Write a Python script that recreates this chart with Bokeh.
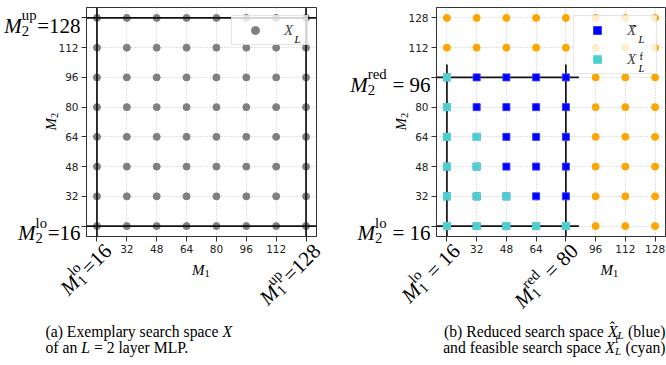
import math
from bokeh.plotting import figure
from bokeh.models import Range1d, Label, Legend, LegendItem, FixedTicker, Span, GridBox
from bokeh.layouts import row
from bokeh.embed import file_html
from bokeh.resources import INLINE

# ---------------- data ----------------
m_values = [16, 32, 48, 64, 80, 96, 112, 128]      # candidate layer widths (M1 and M2)
m1_lo, m1_up = 16, 128
m2_lo, m2_up = 16, 128
m1_red, m2_red = 80, 96
# feasible configurations (cyan)
feas_m1 = [16, 16, 16, 32, 16, 32, 16, 32, 48, 16, 32, 48, 64, 80]
feas_m2 = [96, 80, 64, 64, 48, 48, 32, 32, 32, 16, 16, 16, 16, 16]

all_m1 = [a for b in m_values for a in m_values]
all_m2 = [b for b in m_values for a in m_values]
red_m1 = [a for a, b in zip(all_m1, all_m2) if a <= m1_red and b <= m2_red]
red_m2 = [b for a, b in zip(all_m1, all_m2) if a <= m1_red and b <= m2_red]
out_m1 = [a for a, b in zip(all_m1, all_m2) if not (a <= m1_red and b <= m2_red)]
out_m2 = [b for a, b in zip(all_m1, all_m2) if not (a <= m1_red and b <= m2_red)]

SERIF = "Liberation Serif"
SANS = "DejaVu Sans"
W, H = 666, 365

pad = 0.05 * (m1_up - m1_lo)
XR0, XR1 = m1_lo - pad, m1_up + pad
YR0, YR1 = m2_lo - pad, m2_up + pad

# ---------------- text metrics (Times-compatible) ----------------
ROMAN = {' ': 250, '(': 333, ')': 333, '=': 564, '.': 250, ',': 250,
         'a': 444, 'b': 500, 'c': 444, 'd': 500, 'e': 444, 'f': 333, 'g': 500, 'h': 500,
         'i': 278, 'j': 278, 'k': 500, 'l': 278, 'm': 778, 'n': 500, 'o': 500, 'p': 500,
         'q': 500, 'r': 333, 's': 389, 't': 278, 'u': 500, 'v': 500, 'w': 722, 'x': 500,
         'y': 500, 'z': 444, 'E': 611, 'L': 611, 'M': 889, 'P': 556, 'R': 667, 'X': 722}
ITALIC = {'M': 833, 'X': 611, 'L': 556}


def tw(s, italic=False):
    t = ITALIC if italic else ROMAN
    return sum(t.get(c, ROMAN.get(c, 500)) for c in s) / 1000.0


def run(segs, size, sup_rise=0.5):
    ss = round(size * 0.7, 1)
    pieces = []
    x = 0.0
    s0 = None
    sw = 0.0
    for text, kind in segs:
        if kind in ("sub", "subi", "sup"):
            if s0 is None:
                s0 = x
                sw = 0.0
            it = kind == "subi"
            dy = -0.24 * size if kind.startswith("sub") else sup_rise * size
            pieces.append((text, ss, it, s0, dy))
            sw = max(sw, tw(text, it) * ss)
            x = s0 + sw + 0.03 * size
        elif kind == "hat":
            pieces.append(("\u02c6", size, False, x - 0.5 * size, 0.28 * size))
        else:
            s0 = None
            it = kind == "i"
            pieces.append((text, size, it, x, 0.0))
            x += tw(text, it) * size
    return pieces, x


# transparent overlay figure holding every text that lies outside the plot frames
ov = figure(width=W, height=H, x_range=Range1d(0, W), y_range=Range1d(H, 0),
            x_axis_type=None, y_axis_type=None, output_backend="svg",
            toolbar_location=None, min_border_left=0, min_border_right=0,
            min_border_top=0, min_border_bottom=0, background_fill_alpha=0,
            border_fill_alpha=0, outline_line_color=None)
ov.grid.visible = False


def put(text, px, py, size, italic=False, angle=0.0, color="#000000"):
    th = math.radians(angle)
    n = len(text) - len(text.lstrip(" "))
    if n:
        adv = tw(" " * n) * size
        px += adv * math.cos(th)
        py -= adv * math.sin(th)
        text = text.lstrip(" ")
    ov.add_layout(Label(x=px, y=py, text=text, text_font=SERIF, text_font_size=f"{size}px",
                        text_font_style="italic" if italic else "normal", angle=angle,
                        angle_units="deg", text_align="left", text_baseline="alphabetic",
                        text_color=color))


def place(segs, size, ax, ay, angle=0.0, align="left", sup_rise=0.5):
    pieces, total = run(segs, size, sup_rise)
    th = math.radians(angle)
    ux, uy = math.cos(th), -math.sin(th)
    vx, vy = -math.sin(th), -math.cos(th)
    off = {"left": 0.0, "center": -total / 2, "right": -total}[align]
    sx, sy = ax + off * ux, ay + off * uy
    for txt, sz, it, dx, dy in pieces:
        put(txt, sx + dx * ux + dy * vx, sy + dx * uy + dy * vy, sz, it, angle)


def base_fig(mbl, mbr, fw, xover, yover):
    p = figure(frame_width=fw, frame_height=229, x_range=Range1d(XR0, XR1),
               y_range=Range1d(YR0, YR1), output_backend="svg", toolbar_location=None,
               min_border_left=mbl, min_border_right=mbr, min_border_top=7,
               min_border_bottom=129, background_fill_color="white",
               border_fill_color="white")
    p.outline_line_color = "#333333"
    p.outline_line_width = 1
    for ax, over in ((p.xaxis[0], xover), (p.yaxis[0], yover)):
        ax.ticker = FixedTicker(ticks=m_values, minor_ticks=[])
        ax.major_label_overrides = {v: "" for v in over}
        ax.major_label_text_font = SANS
        ax.major_label_text_font_size = "10.5px"
        ax.major_label_text_color = "#222222"
        ax.major_tick_out = 5
        ax.major_tick_in = 0
        ax.major_tick_line_color = "#333333"
        ax.axis_line_color = "#333333"
        ax.major_label_standoff = 3
    p.grid.grid_line_color = "#b8b8b8"
    p.grid.grid_line_dash = "1 2"
    p.grid.grid_line_width = 0.8
    return p


# ---------------- panel (a) ----------------
p1 = base_fig(86, 22, 230, [m1_lo, m1_up], [m2_lo, m2_up])
for loc in (m1_lo, m1_up):
    p1.add_layout(Span(location=loc, dimension="height", line_color="#111111", line_width=1.7))
for loc in (m2_lo, m2_up):
    p1.add_layout(Span(location=loc, dimension="width", line_color="#111111", line_width=1.7))
r_gray = p1.scatter(all_m1, all_m2, size=7, marker="circle", fill_color="#808080",
                    line_color="#808080")
leg1 = Legend(items=[LegendItem(label="X", renderers=[r_gray])], location="top_right",
              margin=8, padding=4, spacing=9, glyph_width=38, glyph_height=20,
              label_height=20, label_width=19, label_standoff=10,
              label_text_font=SERIF, label_text_font_style="italic",
              label_text_font_size="15px", border_line_color="#cccccc",
              background_fill_alpha=0.8)
p1.add_layout(leg1)
put("L", 294, 38.5, 10.5, True)

place([("M", "i"), ("2", "sub"), ("up", "sup"), ("=128", "r")], 21, 80, 25, 0, "right")
place([("M", "i"), ("2", "sub"), ("lo", "sup"), ("=16", "r")], 21, 80, 232.5, 0, "right")
place([("M", "i"), ("1", "sub"), ("lo", "sup"), ("=16", "r")], 21, 107.5, 247, 45, "right", 0.42)
place([("M", "i"), ("1", "sub"), ("up", "sup"), ("=128", "r")], 21, 316.5, 247, 45, "right", 0.42)
place([("M", "i"), ("1", "sub")], 15, 200.5, 269, 0, "center")
place([("M", "i"), ("2", "sub")], 15, 50, 121, 90, "center")

place([("(a) Exemplary search space ", "r"), ("X", "i")], 15.7, 45, 331)
place([("of an ", "r"), ("L", "i"), (" = 2 layer MLP.", "r")], 15.7, 45, 346.5)

# ---------------- panel (b) ----------------
p2 = base_fig(98, 1, 229, [m1_lo, m1_red], [m2_lo, m2_red])
ext = 7
p2.segment(x0=[m1_lo, m1_red], y0=[m2_red + ext, m2_red + ext], x1=[m1_lo, m1_red],
           y1=[YR0, YR0], line_color="#111111", line_width=1.7)
p2.segment(x0=[XR0, XR0], y0=[m2_lo, m2_red], x1=[m1_red + ext, m1_red + ext],
           y1=[m2_lo, m2_red], line_color="#111111", line_width=1.7)
p2.scatter(out_m1, out_m2, size=7, marker="circle", fill_color="#ffa500", line_color="#ffa500")
r_blue = p2.scatter(red_m1, red_m2, size=7, marker="square", fill_color="#0000ff",
                    line_color="#3a3aff")
r_cyan = p2.scatter(feas_m1, feas_m2, size=7, marker="square", fill_color="#48d1cc",
                    line_color="#6ad8d4")
leg2 = Legend(items=[LegendItem(label="X", renderers=[r_blue]),
                     LegendItem(label="X", renderers=[r_cyan])], location="top_right",
              margin=8, padding=4, spacing=9, glyph_width=38, glyph_height=20,
              label_height=20, label_width=25, label_standoff=11,
              label_text_font=SERIF, label_text_font_style="italic",
              label_text_font_size="15px", border_line_color="#cccccc",
              background_fill_alpha=0.8)
p2.add_layout(leg2)
put("\u02c6", 631, 29, 15, False)
put("L", 638, 38.5, 10.5, True)
put("L", 638, 67.5, 10.5, True)
put("f", 639, 56, 10.5, False)

place([("M", "i"), ("2", "sub"), ("red", "sup"), (" = 96", "r")], 21, 430, 84, 0, "right")
place([("M", "i"), ("2", "sub"), ("lo", "sup"), (" = 16", "r")], 21, 430, 232.5, 0, "right")
place([("M", "i"), ("1", "sub"), ("lo", "sup"), (" = 16", "r")], 21, 456, 247, 45, "right", 0.42)
place([("M", "i"), ("1", "sub"), ("red", "sup"), (" = 80", "r")], 21, 574, 247, 45, "right", 0.42)
place([("M", "i"), ("1", "sub")], 15, 609, 269, 0, "center")
place([("M", "i"), ("2", "sub")], 15, 400, 121, 90, "center")

place([("(b) Reduced search space ", "r"), ("X", "i"), ("", "hat"), ("L", "subi"),
       (" (blue)", "r")], 15.7, 665, 331, 0, "right")
place([("and feasible search space ", "r"), ("X", "i"), ("f", "sup"), ("L", "subi"),
       (" (cyan)", "r")], 15.7, 665, 346.5, 0, "right")

panels = row(p1, p2)
layout = GridBox(children=[(panels, 1, 1), (ov, 0, 0, 3, 3)])
open("out.html", "w").write(file_html(layout, INLINE))
